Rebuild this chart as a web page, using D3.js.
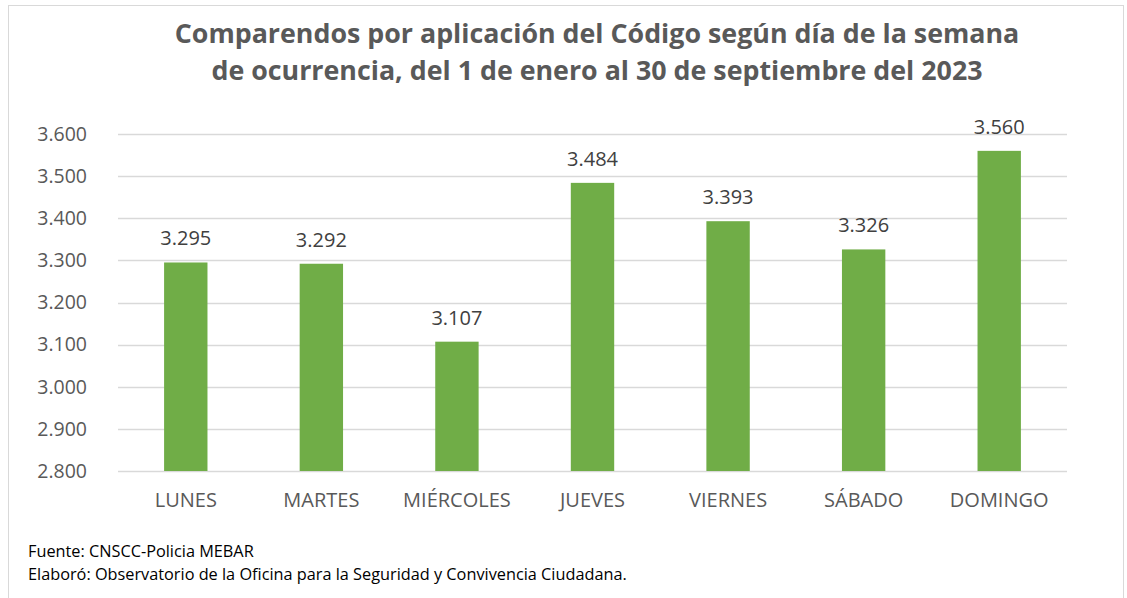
<!DOCTYPE html>
<html>
<head>
<meta charset="utf-8">
<script src="https://cdn.jsdelivr.net/npm/d3@7"></script>
<style>
  body { margin: 0; background: #fff; }
  svg { display: block; font-family: "Open Sans", "Noto Sans", sans-serif; }
</style>
</head>
<body>
<div id="chart"></div>
<script>
const days = ['LUNES', 'MARTES', 'MIÉRCOLES', 'JUEVES', 'VIERNES', 'SÁBADO', 'DOMINGO'];
const comparendos = [3295, 3292, 3107, 3484, 3393, 3326, 3560];
const yTicks = [2800, 2900, 3000, 3100, 3200, 3300, 3400, 3500, 3600];
const titleLines = [
  'Comparendos por aplicación del Código según día de la semana',
  'de ocurrencia, del 1 de enero al 30 de septiembre del 2023'
];
const notes = [
  'Fuente: CNSCC-Policia MEBAR',
  'Elaboró: Observatorio de la Oficina para la Seguridad y Convivencia Ciudadana.'
];

const width = 1127, height = 598;
const margin = { top: 134, right: 60, bottom: 127, left: 118 };

// es-CO style numbers: 3.295
const fmt = d3.formatLocale({ decimal: ',', thousands: '.', grouping: [3], currency: ['$', ''] }).format(',d');

const svg = d3.select('#chart').append('svg')
  .attr('width', width)
  .attr('height', height);

// chart frame
svg.append('rect')
  .attr('x', 8.5).attr('y', 5.5)
  .attr('width', 1115).attr('height', 600)
  .attr('fill', 'none')
  .attr('stroke', '#d9d9d9');

const x = d3.scaleBand()
  .domain(days)
  .range([margin.left, width - margin.right])
  .paddingInner(0.68)
  .paddingOuter(0.34);

const y = d3.scaleLinear()
  .domain([2800, 3600])
  .range([height - margin.bottom, margin.top]);

// gridlines
svg.append('g')
  .selectAll('line')
  .data(yTicks)
  .join('line')
  .attr('x1', margin.left)
  .attr('x2', width - margin.right)
  .attr('y1', d => Math.round(y(d)) + 0.5)
  .attr('y2', d => Math.round(y(d)) + 0.5)
  .attr('stroke', '#d9d9d9')
  .attr('stroke-width', 1.5);

// y axis labels
const yAxis = svg.append('g')
  .attr('transform', `translate(${margin.left - 28},0)`)
  .call(d3.axisLeft(y).tickValues(yTicks).tickFormat(fmt).tickSize(0));
yAxis.select('.domain').remove();
yAxis.selectAll('text')
  .attr('fill', '#595959')
  .attr('font-size', 19.5)
  .attr('font-family', '"Open Sans", sans-serif');

// x axis labels
const xAxis = svg.append('g')
  .attr('transform', `translate(0,${height - margin.bottom + 19})`)
  .call(d3.axisBottom(x).tickSize(0));
xAxis.select('.domain').remove();
xAxis.selectAll('text')
  .attr('fill', '#595959')
  .attr('font-size', 20)
  .attr('font-family', '"Open Sans", sans-serif');

// bars
svg.append('g')
  .selectAll('rect')
  .data(days)
  .join('rect')
  .attr('x', d => x(d))
  .attr('width', x.bandwidth())
  .attr('y', (d, i) => y(comparendos[i]))
  .attr('height', (d, i) => y(2800) - y(comparendos[i]))
  .attr('fill', '#70ad47');

// value labels
svg.append('g')
  .selectAll('text')
  .data(days)
  .join('text')
  .attr('x', d => x(d) + x.bandwidth() / 2)
  .attr('y', (d, i) => y(comparendos[i]) - 17)
  .attr('text-anchor', 'middle')
  .attr('fill', '#404040')
  .attr('font-size', 20)
  .text((d, i) => fmt(comparendos[i]));

// title
svg.append('g')
  .selectAll('text')
  .data(titleLines)
  .join('text')
  .attr('x', 597)
  .attr('y', (d, i) => 43 + i * 37)
  .attr('text-anchor', 'middle')
  .attr('fill', '#595959')
  .attr('font-size', 26.8)
  .attr('font-weight', 'bold')
  .text(d => d);

// footnotes
svg.append('g')
  .selectAll('text')
  .data(notes)
  .join('text')
  .attr('x', 28)
  .attr('y', (d, i) => 557 + i * 23)
  .attr('fill', '#000')
  .attr('font-size', 16.3)
  .text(d => d);
</script>
</body>
</html>
